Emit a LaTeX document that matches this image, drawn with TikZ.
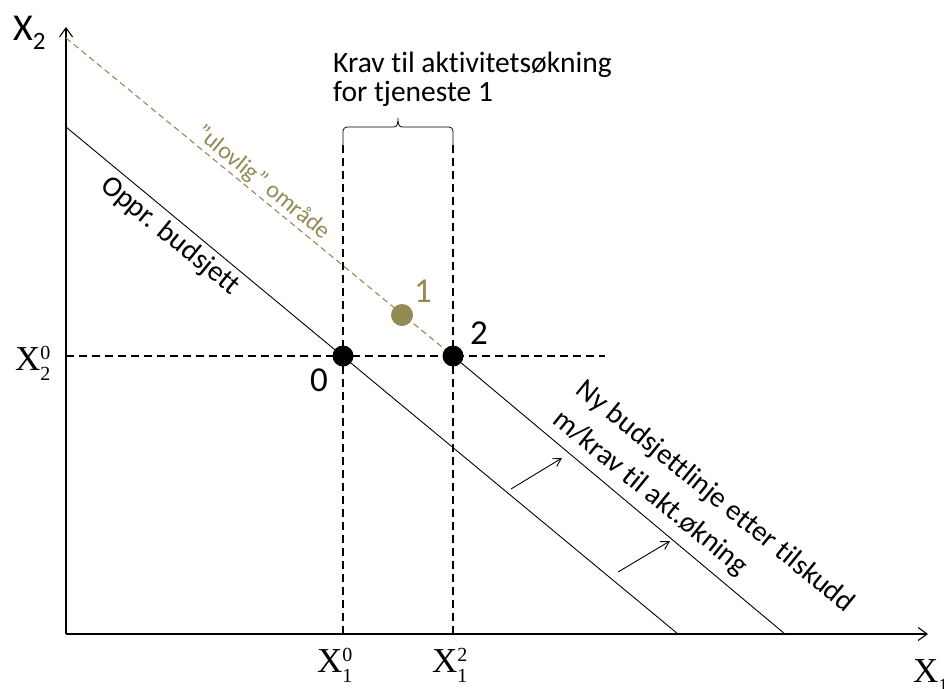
\documentclass[tikz,border=0pt]{standalone}
\usepackage{fontspec}
\setmainfont[Ligatures=NoCommon]{Carlito}
\newfontfamily\tnr{Liberation Serif}
\usetikzlibrary{arrows.meta}
\definecolor{myolive}{HTML}{948A54}
\newcommand{\XLab}[2]{{\tnr\fontsize{35}{35}\selectfont X}\rlap{\raisebox{11pt}{\tnr\fontsize{20}{20}\selectfont #1}}\raisebox{-10pt}{\tnr\fontsize{20}{20}\selectfont #2}}
\begin{document}
\begin{tikzpicture}[x=1pt,y=-1pt,
  axis/.style={line width=1.3pt,-{Straight Barb[length=9pt,width=13pt,line width=1.1pt]}},
  budget/.style={line width=0.9pt},
  olivedash/.style={myolive,line width=1.1pt,dash pattern=on 6pt off 4pt},
  guide/.style={line width=2.8pt,dash pattern=on 8pt off 5pt},
  shiftarrow/.style={line width=0.9pt,-{Straight Barb[length=8pt,width=9pt,line width=0.9pt]}},
  dot/.style={circle,fill=black,inner sep=0pt,minimum size=21pt},
  lbl/.style={inner sep=0pt,font=\fontsize{35}{35}\selectfont},
  txt/.style={inner sep=0pt,font=\fontsize{29.5}{30}\selectfont},
  slanted/.style={inner sep=0pt,font=\fontsize{29}{29}\selectfont,rotate=-39.2}]
\useasboundingbox (0,0) rectangle (944,688);
% axes
\coordinate (O) at (66,634);
\coordinate (ytop) at (66,27);
\coordinate (xend) at (928,634);
\draw[axis] (O) -- (ytop);
\draw[axis] (O) -- (xend);
% points
\coordinate (a0) at (66,127);
\coordinate (b0) at (678,634);
\coordinate (a1) at (66,38);
\coordinate (b1) at (785,634);
\coordinate (yh) at (66,356);
\coordinate (hend) at (605,356);
\coordinate (v0top) at (343,145);
\coordinate (v2top) at (453,145);
\coordinate (v0bot) at (343,634);
\coordinate (v2bot) at (453,634);
% guides
\draw[guide] (yh) -- (hend);
\draw[guide] (v0top) -- (v0bot);
\draw[guide] (v2top) -- (v2bot);
% budget lines
\draw[budget] (a0) -- (b0);
\draw[olivedash] (a1) -- (453,356);
\draw[budget] (453,356) -- (b1);
% dots
\node[dot] (P0) at (343,356) {};
\node[dot] (P2) at (453,356) {};
\node[dot,fill=myolive,minimum size=22pt] (P1) at (402,315) {};
\node[lbl] (l0) at (319,380) {0};
\node[lbl,text=myolive] (l1) at (423,291) {1};
\node[lbl] (l2) at (479,333) {2};
% brace
\draw[line width=0.8pt] (v0top) -- (343,131) to[out=90,in=180] (347,127) -- (394,127)
  to[out=0,in=-90] (398,118) to[out=-90,in=180] (402,127) -- (449,127)
  to[out=0,in=90] (453,131) -- (v2top);
\node[txt,anchor=base west] (krav1) at (333,72) {Krav til aktivitetsøkning};
\node[txt,anchor=base west] (krav2) at (333,101) {for tjeneste 1};
% shift arrows
\coordinate (s1a) at (511,489);
\coordinate (s1b) at (562,458);
\coordinate (s2a) at (618,572);
\coordinate (s2b) at (670,541);
\draw[shiftarrow] (s1a) -- (s1b);
\draw[shiftarrow] (s2a) -- (s2b);
% slanted labels
\node[slanted] (oppr) at (170,236) {Oppr. budsjett};
\node[slanted,text=myolive,font=\fontsize{24}{24}\selectfont] (ulov) at (263,183) {”ulovlig” område};
\node[slanted] (ny1) at (715,497) {Ny budsjettlinje etter tilskudd};
\node[slanted] (ny2) at (650,493) {m/krav til akt.økning};
% axis labels
\node[inner sep=0pt,anchor=base west] (x2) at (13,40) {\fontsize{38}{38}\selectfont X\raisebox{-9pt}{\fontsize{25}{25}\selectfont 2}};
\node[inner sep=0pt,anchor=base west] (x20) at (15,370) {\XLab{0}{2}};
\node[inner sep=0pt,anchor=base west] (x10) at (317,672) {\XLab{0}{1}};
\node[inner sep=0pt,anchor=base west] (x12) at (432,672) {\XLab{2}{1}};
\node[inner sep=0pt,anchor=base west] (x1) at (913,682) {{\tnr\fontsize{35}{35}\selectfont X}\raisebox{-10pt}{\tnr\fontsize{20}{20}\selectfont 1}};
\end{tikzpicture}
\end{document}
